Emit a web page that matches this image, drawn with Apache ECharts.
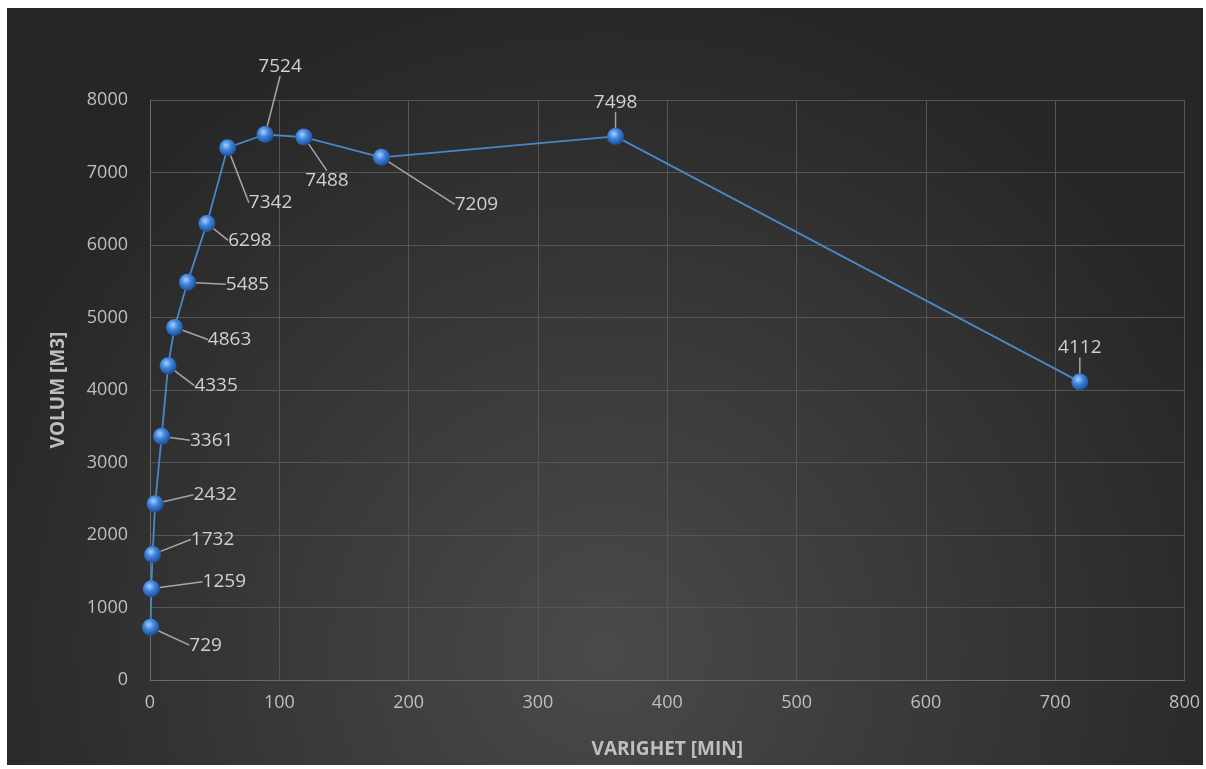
<!DOCTYPE html>
<html><head><meta charset="utf-8">
<script src="https://cdn.jsdelivr.net/npm/echarts@6/dist/echarts.min.js"></script>
<style>html,body{margin:0;padding:0;background:#fff;}#c{position:absolute;left:7px;top:8px;width:1196px;height:757px;}</style>
</head><body><div id="c"></div>
<script>
const durations = [0.5, 1, 2, 4, 9, 14, 19, 29, 44, 60, 89, 119, 179, 360, 719];
const volumes = [729, 1259, 1732, 2432, 3361, 4335, 4863, 5485, 6298, 7342, 7524, 7488, 7209, 7498, 4112];
const xTitle = 'VARIGHET [MIN]';
const yTitle = 'VOLUM [M3]';
// label offsets (styling only): dx, dy from point centre to label centre
const labelOffsets = [[55,18],[73,-7],[60,-15],[60,-9],[50,4],[48,20],[55,12],[60,2],[43,17],[43,55],[15,-68],[23,43],[95,47],[0,-34],[0,-34]];

const chart = echarts.init(document.getElementById('c'));
const font = '"Open Sans", "Liberation Sans", sans-serif';
const pts = durations.map((d,i)=>[d, volumes[i]]);
chart.setOption({
  backgroundColor: {type:'radial', x:0.5, y:0.85, r:0.9, colorStops:[{offset:0,color:'#4a4a4a'},{offset:1,color:'#262626'}]},
  animation:false,
  grid:{left:143, right:18, top:92, bottom:85},
  xAxis:{type:'value', min:0, max:800, interval:100,
    name:xTitle, nameLocation:'middle', nameGap:60,
    nameTextStyle:{color:'#bfbfbf', fontSize:19, fontWeight:'bold', fontFamily:font},
    axisLine:{show:true, lineStyle:{color:'#6a6a6a'}}, axisTick:{show:false},
    axisLabel:{color:'#bfbfbf', fontSize:18, fontFamily:font, margin:14},
    splitLine:{show:true, lineStyle:{color:'#555555'}}},
  yAxis:{type:'value', min:0, max:8000, interval:1000,
    name:yTitle, nameLocation:'middle', nameGap:82,
    nameTextStyle:{color:'#bfbfbf', fontSize:19, fontWeight:'bold', fontFamily:font},
    axisLine:{show:true, lineStyle:{color:'#6a6a6a'}}, axisTick:{show:false},
    axisLabel:{color:'#bfbfbf', fontSize:18, fontFamily:font, margin:22, formatter:v=>String(v)},
    splitLine:{show:true, lineStyle:{color:'#555555'}}},
  series:[{
    type:'line', data:pts, symbol:'circle', symbolSize:17,
    lineStyle:{color:'#4a86c8', width:1.8},
    itemStyle:{color:{type:'radial', x:0.4, y:0.35, r:0.65, colorStops:[{offset:0,color:'#a9d0ff'},{offset:0.45,color:'#3f86de'},{offset:1,color:'#1d4f96'}]}, borderWidth:0},
    label:{show:true, position:'inside', formatter:p=>p.value[1], color:'#d0d0d0', fontSize:19, fontFamily:font},
    labelLine:{show:true, length2:0, lineStyle:{color:'#a6a6a6', width:1.5}},
    labelLayout:function(p){const o=labelOffsets[p.dataIndex]; return {dx:o[0], dy:o[1], hideOverlap:false};}
  }]
});
</script></body></html>
